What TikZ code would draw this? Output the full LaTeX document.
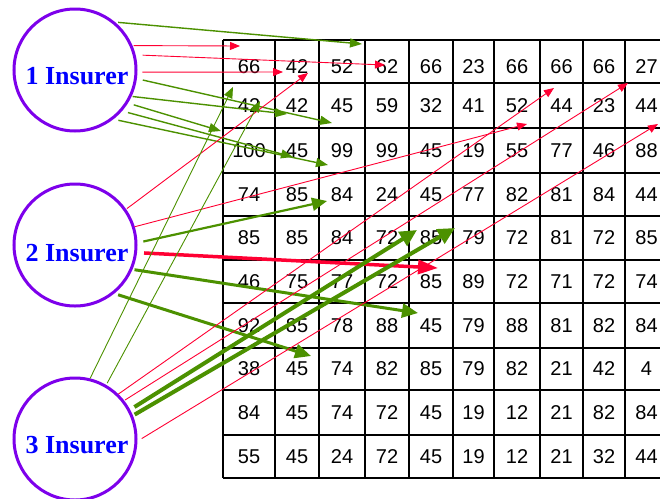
\documentclass[tikz,border=0pt]{standalone}
\usepackage{fontspec}
\usetikzlibrary{arrows.meta}
\newfontfamily\cellfont{Liberation Sans}
\newfontfamily\labelfont{Liberation Serif}
\definecolor{arrowred}{RGB}{255,0,51}
\definecolor{arrowgreen}{RGB}{76,145,0}
\definecolor{ringpurple}{RGB}{125,0,235}
\definecolor{labelblue}{RGB}{0,0,255}

\begin{document}
\begin{tikzpicture}[x=1pt,y=-1pt,
  insurer/.style={circle, draw=ringpurple, line width=3pt, minimum size=122pt, inner sep=0pt},
  insurertext/.style={text=labelblue, font=\labelfont\bfseries\fontsize{26}{26}\selectfont, anchor=base, inner sep=0pt},
  cellnum/.style={font=\cellfont\fontsize{20}{20}\selectfont, inner sep=0pt},
  gridline/.style={line width=1.6pt, black},
  thinred/.style={draw=arrowred, line width=0.9pt, -{Triangle[length=10pt,width=8pt]}},
  thickred/.style={draw=arrowred, line width=3.5pt, -{Triangle[length=20pt,width=14pt]}},
  greenone/.style={draw=arrowgreen, line width=1.4pt, -{Triangle[length=12pt,width=9pt]}},
  thingreen/.style={draw=arrowgreen, line width=0.9pt, -{Triangle[length=11pt,width=9pt]}},
  medgreen/.style={draw=arrowgreen, line width=2.2pt, -{Triangle[length=15pt,width=13pt]}},
  thickgreen/.style={draw=arrowgreen, line width=3pt, -{Triangle[length=16pt,width=14pt]}},
  heavygreen/.style={draw=arrowgreen, line width=4pt, -{Triangle[length=17pt,width=16pt]}}
]
\useasboundingbox (0,0) rectangle (660,498);

% table of values
\foreach \x in {223,275,319,365,409,453,494,540,583,625}
  \draw[gridline] (\x,40) -- (\x,478);
\foreach \y in {40,83,128,173,216,260,303,348,390,435,478}
  \draw[gridline] (223,\y) -- (660,\y);

\foreach \row [count=\r] in {
  {66,42,52,62,66,23,66,66,66,27},
  {42,42,45,59,32,41,52,44,23,44},
  {100,45,99,99,45,19,55,77,46,88},
  {74,85,84,24,45,77,82,81,84,44},
  {85,85,84,72,85,79,72,81,72,85},
  {46,75,77,72,85,89,72,71,72,74},
  {92,85,78,88,45,79,88,81,82,84},
  {38,45,74,82,85,79,82,21,42,4},
  {84,45,74,72,45,19,12,21,82,84},
  {55,45,24,72,45,19,12,21,32,44}} {
  \foreach \v [count=\c] in \row {
    \pgfmathsetmacro{\xc}{{249,297,342,387,431,473.5,517,561.5,604,646.5}[\c-1]}
    \pgfmathsetmacro{\yc}{{66.5,105.5,150.5,194.5,238,281.5,325.5,369,412.5,456.5}[\r-1]}
    \node[cellnum] (n-\r-\c) at (\xc,\yc) {\v};
  }
}

% insurers
\node[insurer] (i1) at (75,70) {};
\node[insurer] (i2) at (75,245) {};
\node[insurer] (i3) at (75,439) {};
\node[insurertext] (l1) at (77,84) {1 Insurer};
\node[insurertext] (l2) at (77,261) {2 Insurer};
\node[insurertext] (l3) at (77,453) {3 Insurer};

% arrow targets
\coordinate (t1a) at (362,44);
\coordinate (t1b) at (240,46);
\coordinate (t1c) at (385,65);
\coordinate (t1d) at (283,72);
\coordinate (t1e) at (332,123);
\coordinate (t1f) at (287,114);
\coordinate (t1g) at (221,131);
\coordinate (t1h) at (293,157);
\coordinate (t1i) at (328,165);
\coordinate (t2a) at (308,73);
\coordinate (t2b) at (527,124);
\coordinate (t2c) at (327,201);
\coordinate (t2d) at (438,268);
\coordinate (t2e) at (418,313);
\coordinate (t2f) at (311,356);
\coordinate (t3a) at (233,87);
\coordinate (t3b) at (260,101);
\coordinate (t3c) at (554,88);
\coordinate (t3d) at (628,83);
\coordinate (t3e) at (417,230);
\coordinate (t3f) at (455,228);
\coordinate (t3g) at (658,124);

% from insurer 1
\draw[greenone, shorten <=3pt] (i1.50) -- (t1a);
\draw[thinred, shorten <=1pt] (i1.23) -- (t1b);
\draw[thinred, shorten <=7pt] (i1.14) -- (t1c);
\draw[thinred, shorten <=5pt] (i1.-2) -- (t1d);
\draw[greenone, shorten <=6pt] (i1.-8) -- (t1e);
\draw[greenone, shorten <=1pt] (i1.-25) -- (t1f);
\draw[greenone, shorten <=6pt] (i1.-32) -- (t1g);
\draw[greenone, shorten <=6pt] (i1.-41) -- (t1h);
\draw[greenone, shorten <=5pt] (i1.-52) -- (t1i);

% from insurer 2
\draw[thinred, shorten <=1pt] (i2.35) -- (t2a);
\draw[thinred] (i2.17) -- (t2b);
\draw[medgreen, shorten <=6pt] (i2.2) -- (t2c);
\draw[thickred, shorten <=7pt] (i2.-7) -- (t2d);
\draw[thickgreen, shorten <=2pt] (i2.-23) -- (t2e);
\draw[thickgreen, shorten <=4pt] (i2.-51) -- (t2f);

% from insurer 3
\draw[thingreen] (i3.76) -- (t3a);
\draw[thingreen, shorten <=2pt] (i3.60) -- (t3b);
\draw[thinred] (i3.46) -- (t3c);
\draw[thinred, shorten <=1pt] (i3.38) -- (t3d);
\draw[heavygreen, shorten <=5pt] (i3.28) -- (t3e);
\draw[heavygreen, shorten <=2pt] (i3.22) -- (t3f);
\draw[thinred, shorten <=5pt] (i3.-2) -- (t3g);
\end{tikzpicture}
\end{document}
